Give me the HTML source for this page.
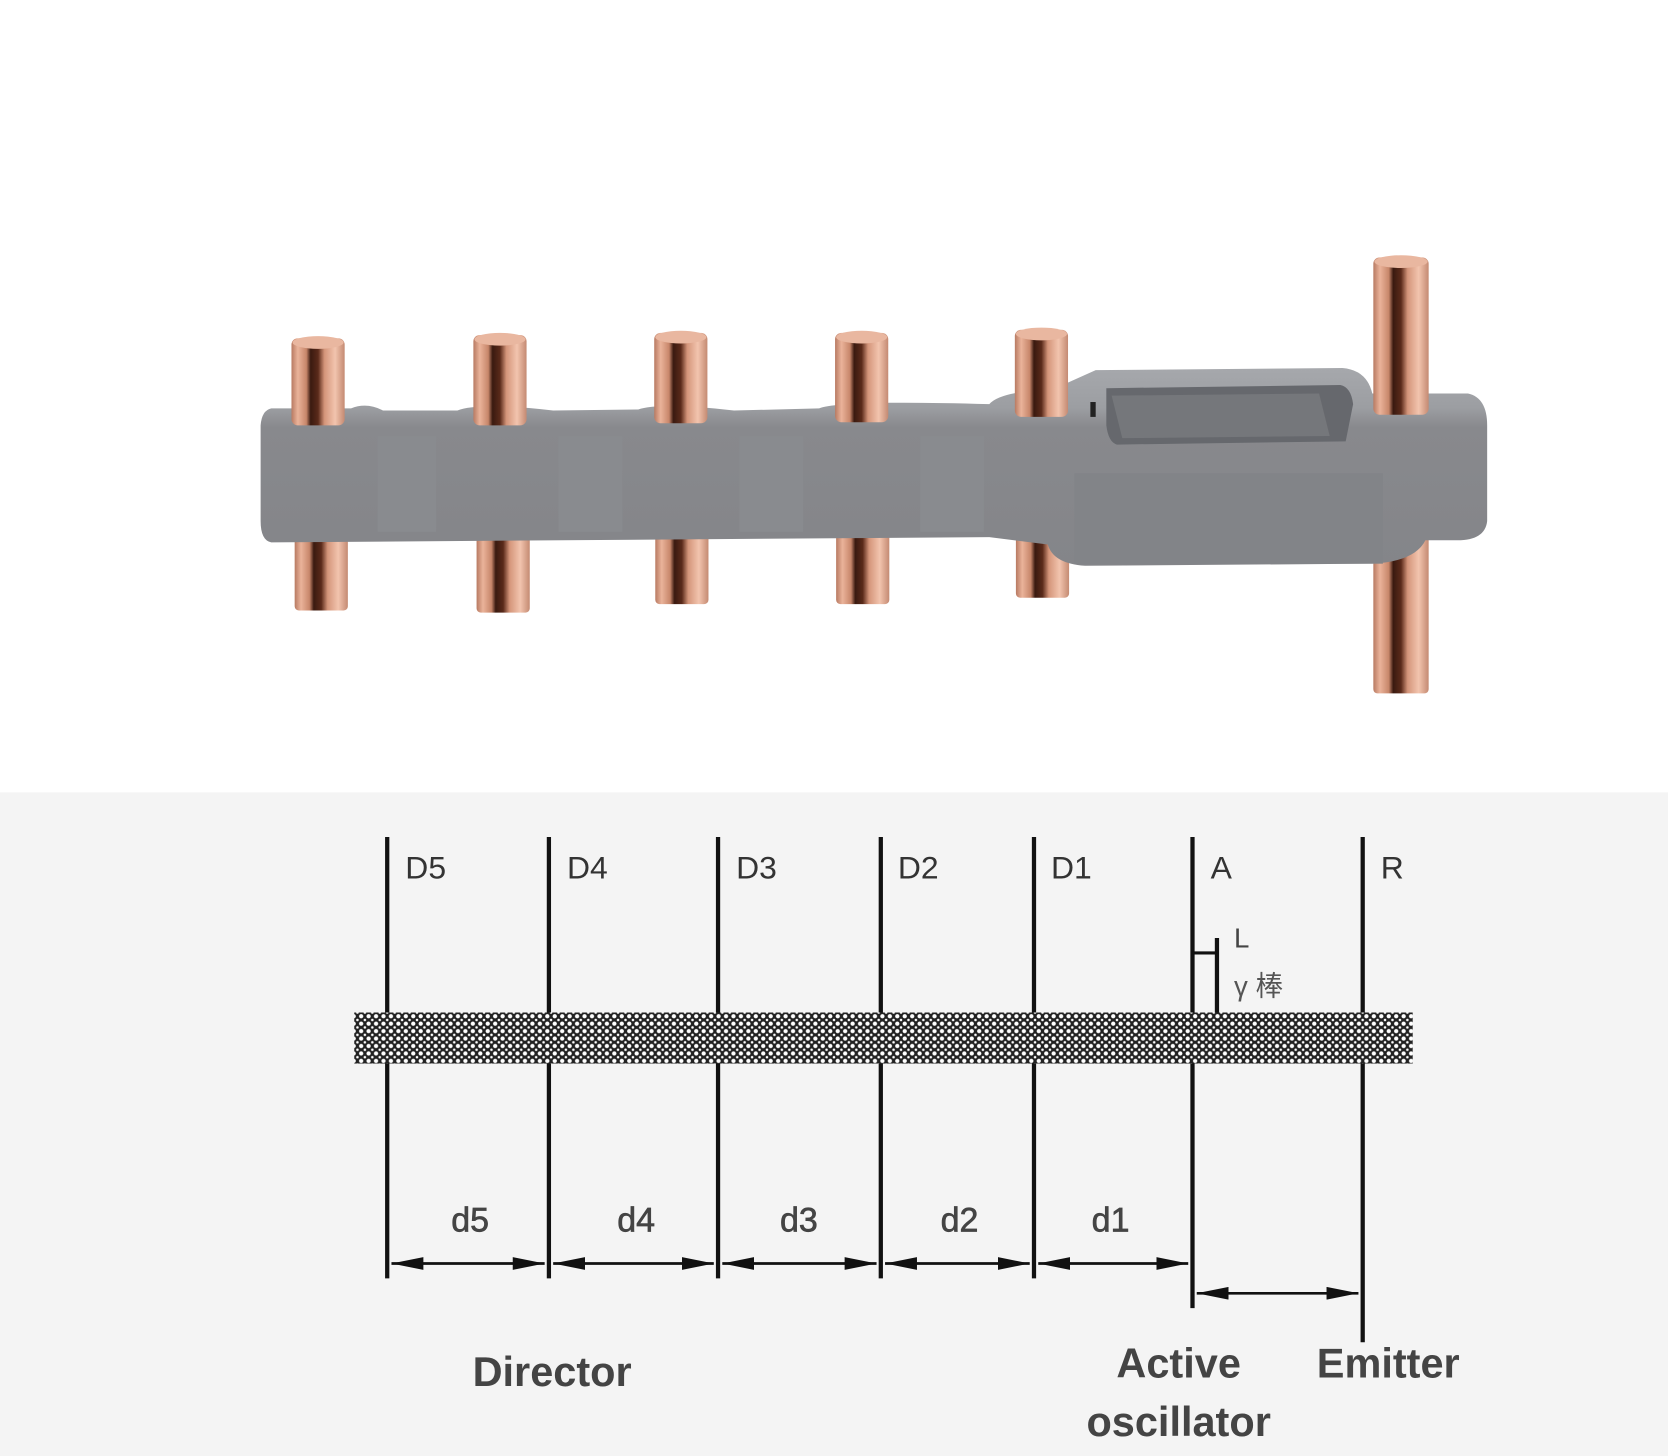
<!DOCTYPE html>
<html><head><meta charset="utf-8"><style>
html,body{margin:0;padding:0;background:#fff}
svg{display:block}
text{font-family:"Liberation Sans","Noto Sans CJK SC",sans-serif}
</style></head><body>
<svg width="1668" height="1456" viewBox="0 0 1568 1369" preserveAspectRatio="none" xmlns="http://www.w3.org/2000/svg">
<defs>
<linearGradient id="cu" x1="0" x2="1" y1="0" y2="0">
<stop offset="0" stop-color="#b87a62"/>
<stop offset="0.12" stop-color="#eab39a"/>
<stop offset="0.28" stop-color="#c7866a"/>
<stop offset="0.36" stop-color="#3a1a10"/>
<stop offset="0.5" stop-color="#5a2a1a"/>
<stop offset="0.62" stop-color="#d4957a"/>
<stop offset="0.82" stop-color="#f2c4ae"/>
<stop offset="1" stop-color="#c48a72"/>
</linearGradient>
<linearGradient id="gb" x1="0" x2="0" y1="0" y2="1">
<stop offset="0" stop-color="#a6a8ac"/>
<stop offset="0.2" stop-color="#9c9ea2"/>
<stop offset="0.3" stop-color="#88898d"/>
<stop offset="1" stop-color="#848589"/>
</linearGradient>
<pattern id="hat" width="7" height="7" patternUnits="userSpaceOnUse">
<rect width="7" height="7" fill="#222"/>
<circle cx="3.5" cy="3.5" r="2" fill="#fff"/>
<circle cx="0" cy="0" r="1.2" fill="#fff"/>
<circle cx="7" cy="0" r="1.2" fill="#fff"/>
<circle cx="0" cy="7" r="1.2" fill="#fff"/>
<circle cx="7" cy="7" r="1.2" fill="#fff"/>
</pattern>
<marker id="ar" viewBox="0 0 30 12" refX="30" refY="6" markerWidth="30" markerHeight="12" orient="auto-start-reverse" markerUnits="userSpaceOnUse">
<path d="M0,0 L30,6 L0,12 z" fill="#111"/>
</marker>
</defs>
<rect width="1568" height="745" fill="#fff"/>
<rect y="745" width="1568" height="624" fill="#f4f4f4"/>

<g fill="url(#cu)">
<rect x="277" y="490" width="50" height="84" rx="4"/>
<rect x="448" y="490" width="50" height="86" rx="4"/>
<rect x="616" y="490" width="50" height="78" rx="4"/>
<rect x="786" y="490" width="50" height="78" rx="4"/>
<rect x="955" y="490" width="50" height="72" rx="4"/>
<rect x="1291" y="490" width="52" height="162" rx="4"/>
</g>
<path d="M255,384 L330,384 Q345,378 360,386 L430,386 Q450,378 520,386 L600,385 Q620,378 690,386 L770,384 Q790,376 930,380 Q940,368 990,366 L1030,348 L1262,346 Q1285,348 1290,370 L1380,370 Q1398,374 1398,400 L1398,490 Q1396,508 1370,508 L1340,508 Q1330,528 1290,530 L1020,532 Q990,530 985,512 L930,505 L255,510 Q245,508 245,490 L245,400 Q246,386 255,384 Z" fill="url(#gb)"/>
<g fill="#8a8c90" opacity="0.8">
<rect x="355" y="410" width="55" height="90"/>
<rect x="525" y="410" width="60" height="90"/>
<rect x="695" y="410" width="60" height="90"/>
<rect x="865" y="410" width="60" height="90"/>
</g>
<path d="M1040,365 L1260,362 Q1270,364 1272,380 L1265,415 L1050,418 Q1042,416 1040,400 Z" fill="#66686d"/>
<path d="M1045,372 L1240,370 L1250,410 L1055,412 Z" fill="#75777b"/>
<rect x="1025" y="378" width="5" height="14" fill="#222"/>
<rect x="1010" y="445" width="290" height="85" fill="#828488"/>
<g fill="url(#cu)">
<rect x="274" y="318" width="50" height="82" rx="6"/>
<rect x="445" y="315" width="50" height="85" rx="6"/>
<rect x="615" y="313" width="50" height="85" rx="6"/>
<rect x="785" y="313" width="50" height="84" rx="6"/>
<rect x="954" y="310" width="50" height="82" rx="6"/>
<rect x="1291" y="242" width="52" height="148" rx="6"/>
</g>
<g fill="#e9b7a0">
<ellipse cx="299" cy="322" rx="24" ry="6"/>
<ellipse cx="470" cy="319" rx="24" ry="6"/>
<ellipse cx="640" cy="317" rx="24" ry="6"/>
<ellipse cx="810" cy="317" rx="24" ry="6"/>
<ellipse cx="979" cy="314" rx="24" ry="6"/>
<ellipse cx="1317" cy="246" rx="25" ry="6"/>
</g>

<g stroke="#111" stroke-width="4">
<line x1="364" y1="787" x2="364" y2="1202"/>
<line x1="516" y1="787" x2="516" y2="1202"/>
<line x1="675" y1="787" x2="675" y2="1202"/>
<line x1="828" y1="787" x2="828" y2="1202"/>
<line x1="972" y1="787" x2="972" y2="1202"/>
<line x1="1121" y1="787" x2="1121" y2="1230"/>
<line x1="1281" y1="787" x2="1281" y2="1262"/>
<line x1="1144" y1="882" x2="1144" y2="952"/>
<line x1="1121" y1="896" x2="1144" y2="896" stroke-width="3"/>
</g>
<rect x="333" y="952" width="995" height="48" fill="url(#hat)"/>
<g stroke="#111" stroke-width="2.5" marker-start="url(#ar)" marker-end="url(#ar)">
<line x1="368" y1="1188" x2="512" y2="1188"/>
<line x1="520" y1="1188" x2="671" y2="1188"/>
<line x1="679" y1="1188" x2="824" y2="1188"/>
<line x1="832" y1="1188" x2="968" y2="1188"/>
<line x1="976" y1="1188" x2="1117" y2="1188"/>
<line x1="1125" y1="1216" x2="1277" y2="1216"/>
</g>
<g font-size="30" fill="#333">
<text x="381" y="826">D5</text>
<text x="533" y="826">D4</text>
<text x="692" y="826">D3</text>
<text x="844" y="826">D2</text>
<text x="988" y="826">D1</text>
<text x="1138" y="826">A</text>
<text x="1298" y="826">R</text>
</g>
<text x="1160" y="891" font-size="26" fill="#444">L</text>
<text x="1160" y="936" font-size="26" fill="#555">γ 棒</text>
<g font-size="32" fill="#444" text-anchor="middle" stroke="#444" stroke-width="0.6">
<text x="442" y="1158">d5</text>
<text x="598" y="1158">d4</text>
<text x="751" y="1158">d3</text>
<text x="902" y="1158">d2</text>
<text x="1044" y="1158">d1</text>
</g>
<g font-size="39" font-weight="bold" fill="#444" text-anchor="middle">
<text x="519" y="1303">Director</text>
<text x="1108" y="1295">Active</text>
<text x="1108" y="1350">oscillator</text>
<text x="1305" y="1295">Emitter</text>
</g>
</svg>
</body></html>
